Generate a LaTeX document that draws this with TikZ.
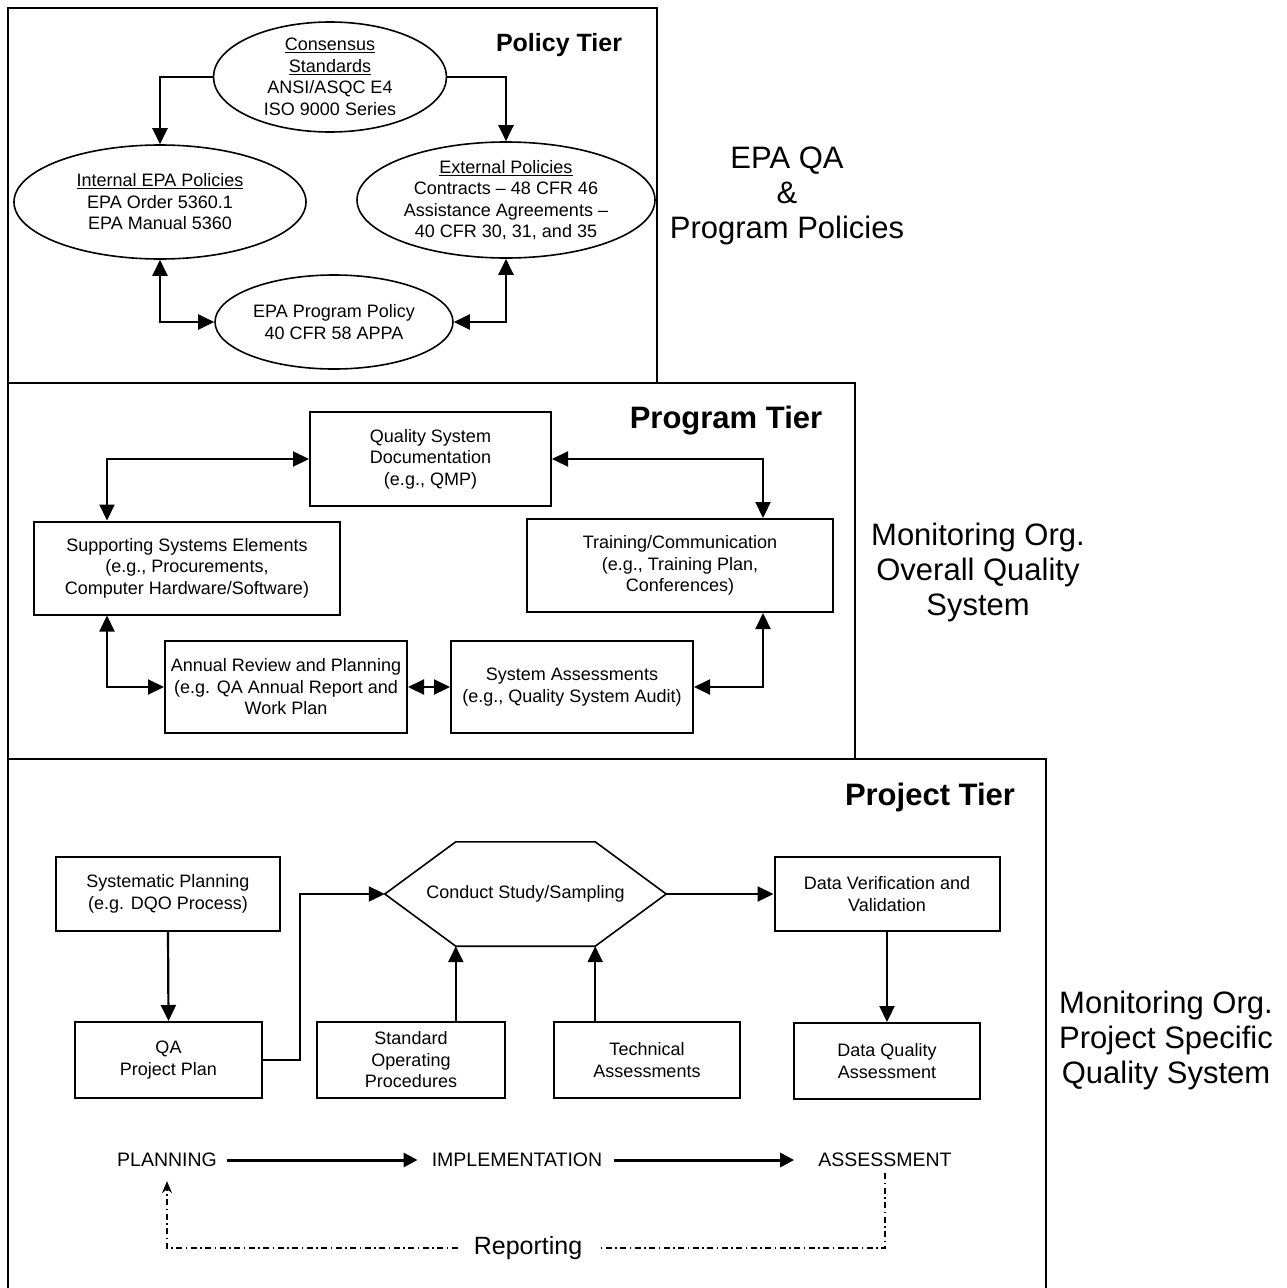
\documentclass[tikz,border=0pt]{standalone}
\usepackage{fontspec}
\setmainfont{Liberation Sans}
\usepackage{tikz}
\usetikzlibrary{math}
\usetikzlibrary{arrows.meta}
\usetikzlibrary{shapes.geometric}

\tikzset{
  frame/.style={line width=2pt},
  box/.style={draw, line width=2pt, inner sep=0pt, align=center,
    font=\fontsize{18}{21.5}\selectfont},
  oval/.style={draw, ellipse, line width=1.6pt, inner sep=-8pt, align=center,
    font=\fontsize{18}{21.5}\selectfont},
  arr/.style={line width=2.2pt, -{Triangle[length=16pt,width=15pt]}},
  darr/.style={line width=2.2pt, {Triangle[length=16pt,width=15pt]}-{Triangle[length=16pt,width=15pt]}},
  flow/.style={line width=3pt, -{Triangle[length=14pt,width=14pt]}},
  dd/.style={line width=1.4pt, dash pattern=on 6pt off 3.5pt on 1.5pt off 3.5pt},
  phase/.style={inner sep=0pt, font=\fontsize{19.5}{22}\selectfont},
  tier/.style={font=\fontsize{31}{35}\selectfont\bfseries},
  side/.style={align=center, font=\fontsize{31}{35}\selectfont},
}

\begin{document}
\begin{tikzpicture}[x=1pt, y=-1pt]

\fill[white] (0,0) rectangle (1287,1288);
\useasboundingbox (0,0) rectangle (1287,1288);

% Policy Tier
\draw[frame] (8,8) rectangle (657,383);
\node[tier, font=\fontsize{25}{28}\selectfont\bfseries] (tpol) at (559,45) {Policy Tier};

\node[oval, minimum width=233pt, minimum height=110pt] (cons) at (330,77)
  {\underline{Consensus}\\\underline{Standards}\\ANSI/ASQC E4\\ISO 9000 Series};
\node[oval, minimum width=292pt, minimum height=114pt] (intpol) at (160,202)
  {\underline{Internal EPA Policies}\\EPA Order 5360.1\\EPA Manual 5360};
\node[oval, minimum width=298pt, minimum height=116pt] (extpol) at (506,200)
  {\underline{External Policies}\\Contracts -- 48 CFR 46\\Assistance Agreements --\\40 CFR 30, 31, and 35};
\node[oval, minimum width=238pt, minimum height=94pt] (progpol) at (334,322)
  {EPA Program Policy\\40 CFR 58 APPA};

\draw[arr] (cons.west) -| (intpol.north);
\draw[arr] (cons.east) -| (extpol.north);
\draw[darr] (intpol.south) |- (progpol.west);
\draw[darr] (extpol.south) |- (progpol.east);

\node[side] (lpol) at (787,196) {EPA QA\\\&\\Program Policies};

% Program Tier
\tikzmath{ \l = 74; \r = 71; }
\draw[frame] (8,383) rectangle (855,759);
\node[tier] (tprog) at (726,421) {Program Tier};

\node[box, minimum width=241pt, minimum height=94pt] (qsd) at (430.5,459)
  {Quality System\\Documentation\\(e.g., QMP)};
\node[box, minimum width=306pt, minimum height=93pt] (sse) at (187,568)
  {Supporting Systems Elements\\(e.g., Procurements,\\Computer Hardware/Software)};
\node[box, minimum width=306pt, minimum height=93pt] (train) at (680,565.5)
  {Training/Communication\\(e.g., Training Plan,\\Conferences)};
\node[box, minimum width=242pt, minimum height=92pt] (annual) at (286,687)
  {Annual Review and Planning\\(e.g. QA Annual Report and\\Work Plan};
\node[box, minimum width=242pt, minimum height=92pt] (sysa) at (572,687)
  {System Assessments\\(e.g., Quality System Audit)};

\draw[darr] (qsd.west) -| ([xshift=\l pt]sse.north west);
\draw[darr] (qsd.east) -| ([xshift=-\r pt]train.north east);
\draw[darr] ([xshift=\l pt]sse.south west) |- (annual.west);
\draw[darr] (annual.east) -- (sysa.west);
\draw[darr] (sysa.east) -| ([xshift=-\r pt]train.south east);

\node[side] (lprog) at (978,572) {Monitoring Org.\\Overall Quality\\System};

% Project Tier
\tikzmath{ \d = 71; }
\draw[frame] (8,1292) -- (8,759) -- (1046,759) -- (1046,1292);
\node[tier] (tproj) at (930,797) {Project Tier};

\node[box, minimum width=224pt, minimum height=74pt] (plan) at (168,894)
  {Systematic Planning\\(e.g. DQO Process)};
\node[box, minimum width=187pt, minimum height=76pt] (qapp) at (168.5,1060)
  {QA\\Project Plan};
\node[inner sep=0pt, minimum width=281pt, minimum height=104pt,
  font=\fontsize{18}{21.5}\selectfont] (hex) at (525.5,894) {Conduct Study/Sampling};
\coordinate (hextl) at ([xshift=\d pt]hex.north west);
\coordinate (hextr) at ([xshift=-\d pt]hex.north east);
\coordinate (hexbl) at ([xshift=\d pt]hex.south west);
\coordinate (hexbr) at ([xshift=-\d pt]hex.south east);
\draw[line width=1.6pt] (hex.west) -- (hextl) -- (hextr) -- (hex.east)
  -- (hexbr) -- (hexbl) -- cycle;
\node[box, minimum width=225pt, minimum height=74pt] (dv) at (887,894)
  {Data Verification and\\Validation};
\node[box, minimum width=188pt, minimum height=76pt] (sop) at (411,1060)
  {Standard\\Operating\\Procedures};
\node[box, minimum width=186pt, minimum height=76pt] (tech) at (647,1060)
  {Technical\\Assessments};
\node[box, minimum width=186pt, minimum height=76pt] (dqa) at (887,1061)
  {Data Quality\\Assessment};

\draw[arr] (plan.south) -- (qapp.north);
\draw[arr] (qapp.east) -- ++(37,0) |- (hex.west);
\draw[arr] (sop.north -| hexbl) -- (hexbl);
\draw[arr] (tech.north -| hexbr) -- (hexbr);
\draw[arr] (hex.east) -- (dv.west);
\draw[arr] (dv.south) -- (dqa.north);

% Planning -> Implementation -> Assessment
\node[phase] (pplan) at (167,1160) {PLANNING};
\node[phase] (pimpl) at (517,1160) {IMPLEMENTATION};
\node[phase] (passm) at (885,1160) {ASSESSMENT};
\draw[flow] ([xshift=10pt]pplan.east) -- ([xshift=-14pt]pimpl.west);
\draw[flow] ([xshift=12pt]pimpl.east) -- ([xshift=-24pt]passm.west);

\node[font=\fontsize{25}{28}\selectfont, inner sep=0pt] (rep) at (528,1248) {Reporting};
\draw[dd, shorten <=6pt] (passm.south) |- ([xshift=16pt]rep.east);
\draw[dd, shorten >=14pt, -{Stealth[length=12pt,width=10pt]}]
  ([xshift=-16pt]rep.west) -| (pplan.south);

\node[side] (lproj) at (1166,1040) {Monitoring Org.\\Project Specific\\Quality System};

\end{tikzpicture}
\end{document}
